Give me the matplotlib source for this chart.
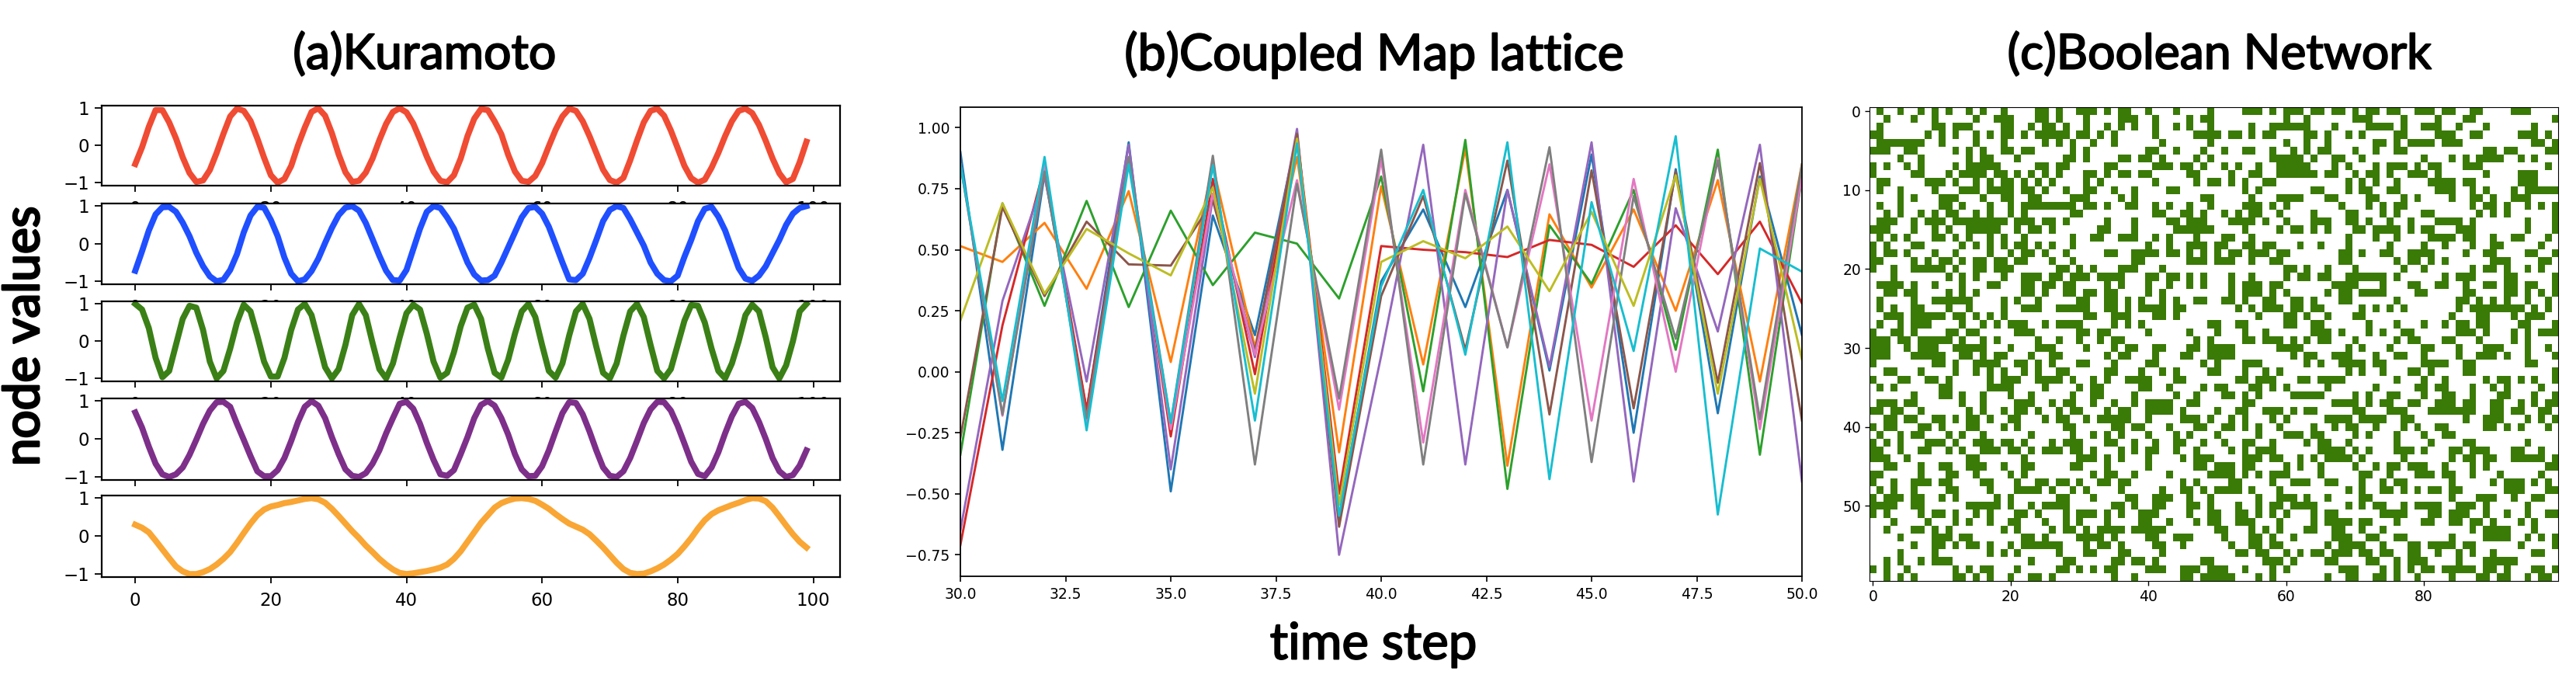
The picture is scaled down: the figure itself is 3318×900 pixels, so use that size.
import numpy as np
import matplotlib
matplotlib.use('Agg')
import matplotlib.pyplot as plt
import matplotlib.patheffects as pe
from matplotlib.colors import ListedColormap

W, H = 3318, 900

# (a) Kuramoto, one value per time step
red_vals = [-.5,-.05,.5,.95,.95,.62,.19,-.32,-.74,-.98,-.94,-.66,-.2,.31,.78,.99,.93,.66,.19,-.33,
            -.8,-1,-.9,-.55,0,.48,.9,1,.8,.33,-.24,-.72,-.98,-.95,-.73,-.35,.14,.58,.9,1,
            .89,.59,.16,-.3,-.7,-.95,-.99,-.8,-.35,.25,.72,.98,.95,.65,.3,-.25,-.7,-.95,-.98,-.82,
            -.48,-.02,.42,.78,.99,.93,.65,.25,-.2,-.65,-.93,-1,-.87,-.4,.13,.62,.93,.99,.8,.4,
            -.07,-.55,-.88,-1,-.92,-.6,-.2,.25,.65,.93,.99,.87,.55,.12,-.35,-.75,-.99,-.9,-.45,.1]
blue_vals = [-.72,-.2,.35,.78,.97,.98,.85,.56,.2,-.24,-.6,-.87,-1,-.96,-.7,-.28,.3,.75,.98,.96,
             .63,.2,-.37,-.8,-1,-.95,-.73,-.4,.02,.42,.76,.96,1,.88,.55,.12,-.32,-.72,-.97,-.98,
             -.7,-.15,.4,.85,1,.95,.7,.4,-.05,-.5,-.82,-.98,-.97,-.85,-.5,-.1,.3,.7,.95,.98,
             .8,.45,-.02,-.5,-.95,-.97,-.8,-.38,.1,.6,.9,1,.95,.65,.3,-.05,-.5,-.8,-.97,-1,
             -.85,-.35,.1,.6,.93,.98,.72,.35,-.15,-.65,-.93,-.99,-.85,-.6,-.25,.1,.5,.8,.95,1]
green_vals = [1,.85,.35,-.45,-.97,-.8,-.1,.6,.95,.9,.3,-.55,-1,-.8,-.2,.5,.98,.8,.15,-.55,
              -.95,-.95,-.45,.3,.85,1,.7,0,-.7,-1,-.75,-.1,.7,1,.7,-.05,-.75,-1,-.6,.1,
              .75,.98,.85,.2,-.55,-.98,-.85,-.3,.4,.9,.98,.6,-.2,-.85,-.98,-.5,.2,.8,1,.65,
              -.1,-.8,-.98,-.6,.15,.8,1,.6,-.15,-.85,-1,-.6,.15,.8,1,.65,-.1,-.8,-1,-.75,
              -.1,.55,.97,.95,.5,-.2,-.8,-1,-.6,0,.7,.98,.8,.1,-.7,-1,-.65,0,.8,1]
purple_vals = [.7,.3,-.2,-.65,-.93,-1,-.93,-.75,-.42,-.02,.4,.75,.97,.98,.85,.4,-.02,-.45,-.85,-.98,
               -.98,-.82,-.5,-.05,.45,.85,1,.88,.55,.05,-.4,-.8,-.97,-1,-.9,-.65,-.3,.15,.55,.93,
               .98,.8,.4,-.1,-.55,-.93,-.97,-.82,-.4,.05,.55,.9,1,.88,.55,.12,-.4,-.8,-.98,-.97,
               -.72,-.3,.2,.68,.97,.95,.65,.2,-.3,-.75,-.97,-1,-.85,-.5,-.05,.42,.78,.98,.97,.75,
               .35,-.12,-.6,-.92,-.98,-.75,-.35,.15,.6,.93,.98,.82,.45,0,-.5,-.85,-1,-.95,-.7,-.3]
orange_vals = [.3,.22,.1,-.12,-.35,-.58,-.8,-.93,-1,-1,-.95,-.87,-.75,-.6,-.42,-.18,.08,.33,.55,.7,
               .78,.82,.87,.9,.94,.98,1,.97,.88,.72,.53,.33,.13,-.05,-.25,-.42,-.6,-.75,-.88,-.97,
               -1,-.98,-.95,-.92,-.88,-.83,-.75,-.6,-.4,-.15,.1,.35,.55,.75,.87,.94,.99,1,.98,.93,
               .83,.72,.58,.45,.33,.25,.17,.05,-.12,-.3,-.5,-.7,-.87,-.97,-1,-.99,-.93,-.85,-.75,-.62,
               -.47,-.27,-.05,.2,.42,.58,.68,.75,.82,.88,.95,1,.99,.92,.75,.52,.28,.05,-.15,-.3]
kuramoto_series = [red_vals, blue_vals, green_vals, purple_vals, orange_vals]
kuramoto_colors = ['#F04B33', '#1F4FFF', '#3A8016', '#7D2F8A', '#F9A634']

# (b) Coupled map lattice, t = 30..50
cml_t = list(range(30, 51))
cml_0 = [.9,-.32,.81,-.16,.94,-.49,.64,.15,.97,-.6,.37,.665,.265,.745,.005,.89,-.25,.83,-.17,.8,.15]
cml_1 = [.515,.45,.61,.34,.74,.04,.845,.1,.88,-.33,.76,.03,.915,-.385,.645,.345,.665,.25,.785,-.04,.85]
cml_2 = [-.34,.69,.27,.7,.265,.66,.355,.57,.525,.3,.8,-.08,.95,-.48,.6,.36,.745,.09,.91,-.34,.8]
cml_3 = [-.71,.19,.84,-.155,.875,-.265,.79,-.01,.97,-.5,.515,.5,.49,.47,.54,.52,.43,.6,.4,.615,.28]
cml_4 = [-.65,.29,.8,-.04,.93,-.4,.715,.06,.995,-.75,.065,.93,-.38,.745,.02,.94,-.45,.67,.165,.93,-.45]
cml_5 = [-.27,.675,.31,.615,.44,.435,.7,.085,.975,-.635,.31,.72,.09,.865,-.175,.825,-.15,.82,-.045,.855,-.2]
cml_6 = [.85,-.18,.85,-.21,.87,-.235,.73,.07,.785,-.155,.87,-.29,.745,.1,.85,-.2,.79,0,.875,-.235,.8]
cml_7 = [.85,-.175,.82,-.19,.88,-.21,.885,-.38,.77,-.11,.91,-.38,.73,.1,.92,-.37,.72,.135,.865,-.195,.85]
cml_8 = [.21,.69,.32,.585,.485,.395,.755,-.09,.955,-.545,.45,.535,.465,.595,.33,.655,.27,.805,-.09,.79,.05]
cml_9 = [.85,-.12,.88,-.24,.85,-.21,.845,-.2,.935,-.59,.35,.745,.07,.94,-.44,.695,.085,.965,-.585,.505,.41]
cml_series = [cml_0, cml_1, cml_2, cml_3, cml_4, cml_5, cml_6, cml_7, cml_8, cml_9]

# (c) Boolean network: columns that are on, row by row
bool_on = [
    "1 4 7 9 11 14 16 19 24 25 27 30 31 32 34 36 37 40 44 49 54 55 56 58 60 61 62 64 65 67 68 70 72 73 75 76 79 80 81 83 84 87 88 93 94 95",
    "2 6 9 15 18 19 20 24 25 27 31 36 37 38 41 46 48 49 60 63 70 71 72 77 82 86 87 99",
    "1 9 10 12 13 14 19 20 23 25 26 28 31 34 36 38 41 44 46 49 55 58 59 60 61 62 63 67 72 73 74 75 77 80 81 82 85 89 96",
    "0 1 8 10 12 15 17 19 20 22 24 25 26 27 28 30 31 33 35 41 47 48 49 50 52 53 55 57 58 63 64 66 69 71 76 77 82 83 84 87 88 94 95 96 98",
    "1 2 3 4 5 6 7 10 15 19 25 27 29 32 35 42 49 60 63 66 73 74 76 78 79 80 81 83 84 85 96 97 99",
    "0 1 2 5 6 12 14 16 19 20 22 23 29 31 40 41 44 48 51 54 55 58 61 63 65 66 70 73 76 77 89 90 92 93 98 99",
    "4 7 14 16 17 21 28 29 31 36 37 39 40 42 47 49 58 59 60 61 62 64 67 68 71 80 84 86 88 89 90 91 94 96",
    "0 2 5 7 12 14 15 16 17 18 24 25 27 28 34 35 41 42 43 45 46 48 51 53 56 59 60 61 62 63 67 69 73 75 76 77 79 81 82 86 87 88 98",
    "0 6 7 11 13 14 15 16 18 19 21 23 25 27 31 32 34 36 37 39 40 46 47 52 55 56 59 60 61 62 63 64 66 67 70 72 73 75 78 79 80 82 89 94 95 96",
    "1 2 8 9 10 12 15 17 19 20 22 24 26 31 33 41 47 49 50 52 54 57 58 69 71 73 76 81 82 83 84 86 87 94 95 96",
    "1 4 9 13 14 15 17 18 19 20 22 23 25 28 31 32 35 38 43 44 54 56 64 65 69 71 72 75 76 82 83 84 87 89 93 95 96 97 98 99",
    "4 6 10 11 12 16 19 20 23 24 29 30 31 36 38 48 49 55 59 60 61 62 66 67 72 73 77 79 84 87 88 90 93 94 95",
    "1 4 10 11 13 17 20 22 23 24 25 26 27 28 29 31 32 34 37 38 41 43 46 49 54 55 56 58 60 68 72 74 76 77 87 89 90 92 95 97 99",
    "2 4 7 9 11 12 15 17 20 22 29 30 41 42 45 46 48 51 53 55 56 59 64 69 70 74 76 80 81 88 90 92 99",
    "1 2 3 6 8 9 10 12 13 14 15 16 17 18 19 21 22 23 25 26 28 34 38 43 44 46 47 48 52 53 54 55 57 60 64 65 66 69 70 72 75 78 82 83 84 85 87 95 99",
    "0 1 2 6 9 11 14 15 16 17 18 21 23 24 26 33 34 38 44 45 46 47 48 49 54 59 61 62 64 66 70 71 73 74 75 76 78 80 81 85 86 87 95 99",
    "1 3 5 9 10 12 14 17 19 22 29 32 33 36 37 38 41 43 47 51 52 55 69 73 76 81 82 83 84 86 87 90 93 94 98",
    "0 2 6 7 13 15 17 19 21 22 24 26 29 40 43 46 47 48 50 51 54 55 57 58 62 65 69 75 80 83 87 90 91 97",
    "0 2 3 5 9 12 17 20 22 23 25 28 34 35 38 39 40 41 43 44 46 48 50 52 53 55 56 57 59 60 68 69 71 74 75 78 79 80 81 86 89 90 95 96 99",
    "0 1 6 8 10 11 13 15 16 18 19 21 22 26 29 38 39 46 47 48 50 51 52 55 58 59 68 69 76 78 79 81 83 90 91 92 97 98",
    "0 3 6 7 8 9 10 12 15 16 18 19 20 27 28 30 32 36 37 38 42 60 61 63 66 70 77 80 87 89 90 92 95 97",
    "3 11 13 15 19 22 23 24 26 27 29 30 31 33 34 35 36 40 41 43 44 46 48 52 55 60 62 63 65 66 69 70 71 72 73 74 76 83 85 86 87 92 93 99",
    "1 2 3 4 6 9 13 17 18 22 23 25 26 28 29 34 36 40 43 46 48 52 54 55 56 58 59 67 68 69 70 74 78 79 82 83 86 89 90 92 93 95 96 99",
    "2 3 5 6 11 13 15 22 23 25 28 29 31 32 34 35 40 42 52 54 55 56 58 60 66 68 69 71 72 73 74 79 80 86 87 92 93 95 97 99",
    "1 6 9 10 11 12 13 14 19 21 24 30 31 34 35 37 39 42 44 47 48 51 52 54 57 58 61 62 64 68 69 76 85 86 88 90 92 95 98",
    "1 3 6 7 11 14 19 22 23 24 27 28 29 30 31 34 35 37 39 40 41 42 44 45 53 55 57 58 59 61 62 64 65 71 73 75 77 85 87 88 89 90 91 92 93 94 96 98",
    "2 3 4 6 7 8 9 10 12 13 15 17 19 31 32 35 36 37 41 42 44 56 60 61 63 66 70 71 84 88 89 93 95 96 97",
    "1 4 6 7 8 13 16 18 20 21 22 25 27 28 29 30 35 37 39 49 50 53 54 60 61 64 65 72 76 80 83 85 86 88 89 94 95 99",
    "0 3 4 6 11 12 14 15 21 22 23 30 31 33 34 40 46 50 54 57 64 65 66 68 72 74 77 78 85 86 87 89 93 95 97 98 99",
    "0 1 2 4 5 7 8 9 10 11 13 16 18 24 27 30 33 35 36 47 49 54 55 57 58 59 61 63 65 66 70 76 78 79 83 84 88 93 95",
    "0 1 2 5 7 8 9 12 13 14 15 16 20 24 25 26 31 35 37 38 41 42 46 47 49 50 51 52 59 60 61 62 69 71 75 80 81 85 89 90 91 95 98",
    "0 1 2 6 7 8 9 10 13 14 16 18 19 23 26 27 34 36 37 41 45 46 49 50 51 52 61 63 64 67 68 69 73 76 77 80 85 88 89 90 92 95 99",
    "0 9 10 12 15 16 17 18 21 22 24 26 30 31 35 40 41 48 50 54 55 56 63 65 68 69 70 71 73 74 80 81 82 83 86 87 95 96",
    "2 3 7 12 15 17 19 22 24 27 28 34 35 39 42 44 49 50 54 57 59 69 71 74 78 79 81 86 87 99",
    "0 4 5 8 9 11 17 19 20 21 24 25 26 27 29 32 34 37 38 39 40 44 45 53 54 56 57 58 62 63 65 66 67 68 76 80 83 89 91 92 94 96 99",
    "1 3 10 11 17 18 19 20 25 30 32 33 39 40 43 48 50 51 55 56 58 60 66 73 79 80 82 83 87 90 92 97",
    "6 10 11 13 16 20 23 29 32 33 38 44 47 51 52 54 56 61 62 63 64 65 70 72 75 76 80 83 84 87 91 92 96 99",
    "1 2 3 5 6 13 16 21 22 23 26 28 29 32 35 38 40 41 42 43 46 47 54 55 67 68 69 70 72 74 75 78 79 82 83 84 86 87 90 91 94 96 98 99",
    "0 1 3 4 7 14 16 19 21 22 24 27 29 30 34 36 37 40 41 42 43 45 50 53 54 57 58 59 61 63 64 70 71 75 76 77 81 82 83 84 85 86 87 90 91 93 94 97 98",
    "2 3 5 6 9 10 12 14 15 17 20 21 25 27 28 31 33 34 35 36 37 40 45 46 47 49 52 54 58 60 66 67 68 69 71 72 73 74 77 78 86 89 90 91 95 97 99",
    "0 2 3 7 8 10 14 15 19 21 28 29 35 36 38 39 43 47 48 51 52 54 56 59 64 67 69 70 73 77 79 82 83 89 90 92 94 98",
    "1 4 6 7 11 13 16 23 29 32 34 36 40 44 46 50 56 60 61 62 64 65 70 72 76 80 83 84",
    "0 2 4 8 9 10 12 15 16 17 19 20 22 26 28 29 30 34 35 38 41 44 45 48 51 54 55 58 63 65 66 69 76 81 86 87 95",
    "0 1 4 7 8 11 13 16 17 18 20 21 23 25 26 27 29 30 32 36 38 40 41 44 47 52 54 56 57 58 65 66 67 68 70 72 76 77 78 80 84 85 87 88 89 93 94 97",
    "0 1 2 5 14 15 22 30 31 32 34 36 40 45 47 48 49 54 55 56 58 59 62 64 66 67 68 69 71 77 84 86 87 89 90 93 94 95 96 97 99",
    "2 3 7 10 11 14 15 16 19 22 23 29 30 34 40 47 48 50 51 52 54 55 60 62 65 70 73 75 76 78 79 80 83 87 89 98 99",
    "0 1 7 11 12 15 20 22 32 34 35 38 43 49 50 51 52 54 56 58 59 60 65 71 72 75 79 80 81 83 84 87 91 97",
    "0 3 6 7 8 10 11 16 17 21 24 25 27 28 30 33 34 36 37 45 47 52 53 58 61 62 63 66 67 71 74 76 77 84 90 92 93 94 96 98",
    "1 3 6 11 12 17 21 22 23 24 26 29 31 36 42 45 46 48 50 51 52 53 55 59 69 71 74 75 77 79 81 82 84 85 92 93 94 98 99",
    "0 2 3 4 6 7 10 12 18 20 27 28 32 37 38 41 42 43 46 49 56 59 60 61 63 66 71 72 84 88 89 90 93 96 97",
    "0 1 2 3 6 7 14 15 16 17 18 20 23 25 26 27 28 35 36 38 41 42 46 47 49 53 56 58 59 61 62 63 64 69 71 73 74 77 79 80 81 82 85 86 87 89 95",
    "0 2 7 9 10 12 15 17 21 22 24 28 30 31 32 34 36 39 40 41 46 49 50 53 54 56 58 60 64 66 67 74 75 76 77 81 82 84 85 86 89 92 95 98 99",
    "3 8 12 14 17 20 21 25 28 30 34 39 40 43 47 49 50 53 54 55 59 64 66 67 68 69 71 72 76 80 81 84 85 87 88 90 94 96",
    "2 6 7 9 11 19 21 26 28 29 31 33 34 35 36 38 39 40 41 42 50 51 55 57 59 63 64 67 68 71 74 87 89 90 91 92 96",
    "4 9 10 11 13 14 22 23 25 30 31 32 33 35 40 41 44 45 46 51 55 56 58 61 67 68 69 72 73 76 77 84 89 90 91 92 95 97 99",
    "6 9 10 12 14 15 17 20 22 23 24 25 26 27 31 33 34 36 41 42 45 52 55 56 58 59 66 68 69 70 71 74 78 79 81 82 83 84 86 87 94 99",
    "4 9 17 19 21 27 31 32 36 37 42 53 54 56 57 60 62 64 65 67 68 69 71 72 74 75 78 79 82 85 87 90 96 97",
    "2 4 7 9 10 11 23 28 29 35 36 38 39 41 48 49 57 58 59 61 66 67 72 73 76 78 79 80 85 89 90 91 92 93",
    "0 2 5 12 14 16 17 21 27 28 30 32 34 35 40 41 42 45 46 47 49 50 51 54 58 60 68 69 70 74 76 78 80 81 83 84 85 86 87 89 90 92 96 97 99",
    "2 4 6 12 13 15 17 20 23 24 26 35 38 45 46 48 49 50 51 52 56 58 66 69 70 73 74 76 79 84 88 89 91 92 95 97 98",
]
bool_ticks_x = [0, 20, 40, 60, 80]
bool_ticks_y = [0, 10, 20, 30, 40, 50]

titles = ['(a)Kuramoto', '(b)Coupled Map lattice', '(c)Boolean Network']
title_sizes = [45, 46.5, 45]
ylabel_text = 'node values'
xlabel_text = 'time step'


def px_axes(fig, x0, y0, x1, y1):
    # rectangle in image pixels, y measured from the top
    return fig.add_axes([x0 / W, 1 - y1 / H, (x1 - x0) / W, (y1 - y0) / H])


fig = plt.figure(figsize=(W / 100, H / 100), dpi=100)

# panel a, later axes cover the tick labels of the one above
kur_boxes = [(136, 239), (262, 366), (388, 491), (513, 618), (638, 743)]
for vals, col, (top, bottom) in zip(kuramoto_series, kuramoto_colors, kur_boxes):
    ax = px_axes(fig, 131, top, 1082, bottom)
    ax.plot(range(len(vals)), vals, color=col, lw=5.6)
    ax.set_ylim(-1.08, 1.07)
    ax.set_xticks([0, 20, 40, 60, 80, 100])
    ax.set_yticks([-1, 0, 1])
    ax.tick_params(axis='x', labelsize=16.5, length=5.8, width=1.3, pad=8)
    ax.tick_params(axis='y', labelsize=16.5, length=6.5, width=1.3, pad=5)
    for s in ax.spines.values():
        s.set_linewidth(1.6)

# panel b
ax = px_axes(fig, 1237, 138, 2321, 742)
for vals in cml_series:
    ax.plot(cml_t, vals, lw=2.1)
ax.set_xlim(30, 50)
ax.set_ylim(-0.838, 1.084)
ax.set_yticks(np.arange(-0.75, 1.01, 0.25))
ax.tick_params(labelsize=13.5, length=5, width=1.2, pad=5)
for s in ax.spines.values():
    s.set_linewidth(1.3)

# panel c
grid = np.zeros((60, 100))
for r, row in enumerate(bool_on):
    grid[r, [int(c) for c in row.split()]] = 1
ax = px_axes(fig, 2408, 138, 3295, 748)
ax.imshow(grid, cmap=ListedColormap(['white', '#3A7A06']), aspect='auto', interpolation='nearest')
ax.set_xticks(bool_ticks_x)
ax.set_yticks(bool_ticks_y)
ax.tick_params(labelsize=13.5, length=4, width=1.0, pad=4)

# the headings are heavier than Lato regular, thicken with a thin stroke
heavy = [pe.withStroke(linewidth=1.4, foreground='black')]
title_centers = [547, 1770, 2859]
for t, cx, fs in zip(titles, title_centers, title_sizes):
    fig.text(cx / W, 1 - 70 / H, t, fontsize=fs, family='Lato', ha='center', va='center', path_effects=heavy)
fig.text(32 / W, 1 - 433 / H, ylabel_text, fontsize=46, family='Lato', rotation=90, ha='center', va='center',
         path_effects=[pe.withStroke(linewidth=2.0, foreground='black')])
fig.text(1769 / W, 1 - 830 / H, xlabel_text, fontsize=47, family='Lato', ha='center', va='center', path_effects=heavy)

fig.savefig('out.png', dpi=100)
